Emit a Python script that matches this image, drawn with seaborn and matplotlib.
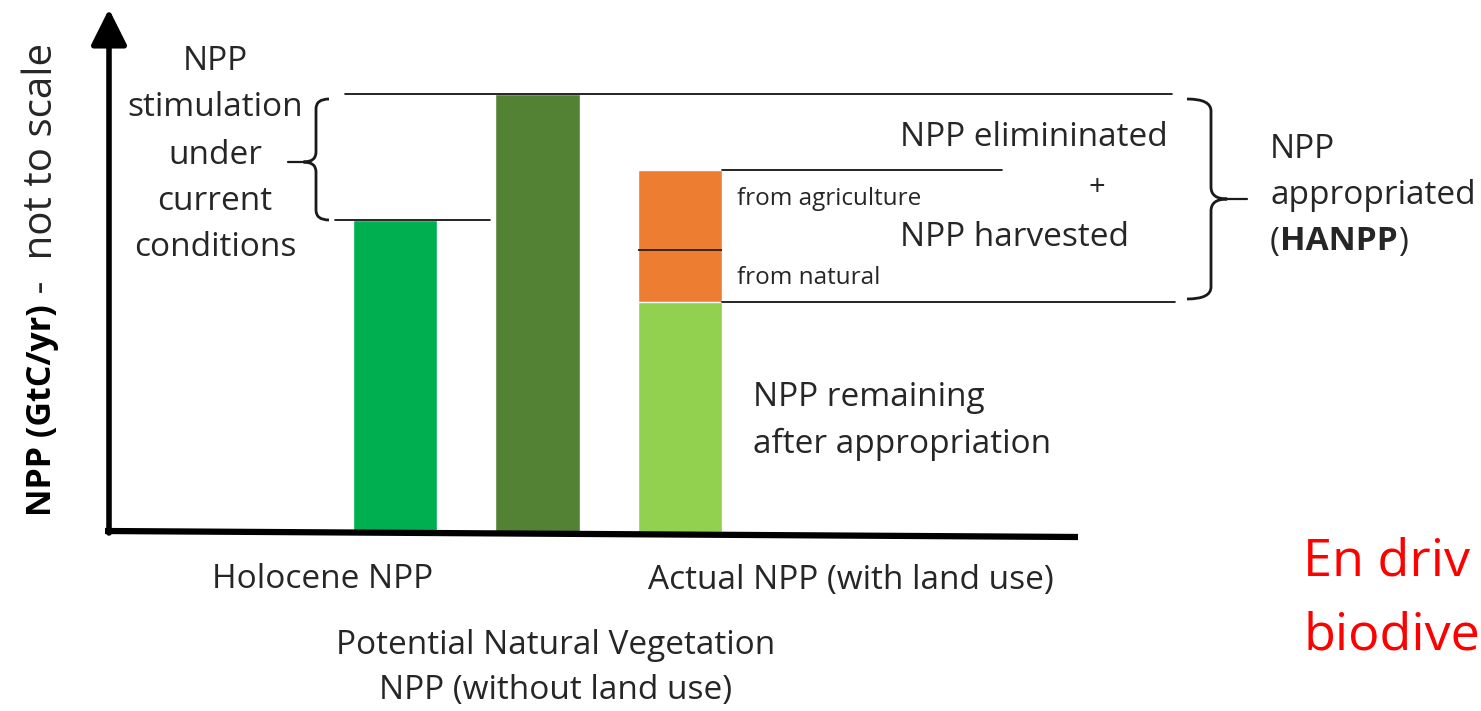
import matplotlib
matplotlib.use("Agg")
import matplotlib.pyplot as plt
import pandas as pd
import seaborn as sns
from matplotlib.patches import PathPatch
from matplotlib.path import Path
from matplotlib.transforms import Affine2D, IdentityTransform, blended_transform_factory

# bar heights in relative units (the original is "not to scale")
stages = ["Holocene NPP", "Potential Natural Vegetation NPP", "Actual NPP (with land use)"]
holocene_npp = 71.2
potential_npp = 100.0
actual_remaining = 52.5
actual_natural = 11.9
actual_agriculture = 18.3
bar_colors = ["#00B050", "#548235", "#ED7D31"]
remaining_color = "#92D050"

W, H = 1481, 711
TXT = "#262626"

sns.set_theme(style="white")
plt.rcParams["font.family"] = ["Open Sans", "DejaVu Sans"]

fig = plt.figure(figsize=(W / 100, H / 100), dpi=100)
ax = fig.add_axes([0, 0, 1, 1])

actual_total = actual_remaining + actual_natural + actual_agriculture
df = pd.DataFrame({"stage": stages, "npp": [holocene_npp, potential_npp, actual_total]})
sns.barplot(data=df, x="stage", y="npp", hue="stage", order=stages, palette=bar_colors,
            width=0.59, saturation=1, errorbar=None, legend=False, ax=ax)
rem = pd.DataFrame({"stage": [stages[2]], "npp": [actual_remaining]})
sns.barplot(data=rem, x="stage", y="npp", order=stages, color=remaining_color,
            width=0.59, saturation=1, errorbar=None, ax=ax)

# map categories / values to the picture's pixel grid
x0, xstep = 395, 142.5
ybase, yscale = 532, 4.38
ax.set_xlim(-x0 / xstep, (W - x0) / xstep)
ax.set_ylim(-(H - ybase) / yscale, ybase / yscale)
ax.set_axis_off()

pt = Affine2D().scale(1, -1).translate(0, H)          # image pixels (y down)
bt = blended_transform_factory(IdentityTransform(), ax.transData)  # x pixels, y data

# divider between the two harvested parts
ax.hlines(actual_remaining + actual_natural, 2 - 0.295, 2 + 0.295, color="#3b2414", lw=1.4)

# reference lines at the bar tops
line_kw = dict(color="black", lw=1.2, transform=bt, clip_on=False)
ax.plot([345, 1172], [potential_npp] * 2, **line_kw)
ax.plot([335, 490], [holocene_npp] * 2, **line_kw)
ax.plot([722, 1002], [actual_total] * 2, **line_kw)
ax.plot([722, 1175], [actual_remaining] * 2, **line_kw)

# axes: arrow up and the bottom line
ax.annotate("", xy=(109, 9), xycoords=pt, xytext=(109, 533), textcoords=pt,
            arrowprops=dict(arrowstyle="-|>,head_length=1.0,head_width=0.5", lw=4,
                            color="black", mutation_scale=22, shrinkA=0, shrinkB=0))
ax.plot([105, 1078], [531, 537], color="black", lw=4.5, transform=pt,
        solid_capstyle="butt", clip_on=False)


def brace(xs, xe, xt, y0, y1, ym, r=12):
    # xs: spine x, xe: x of the curled ends, xt: x of the tip
    d = xt - xs
    verts = [(xe, y0), (xs, y0), (xs, y0 + r),
             (xs, ym - r), (xs, ym), (xs + d * 0.45, ym),
             (xs, ym), (xs, ym + r),
             (xs, y1 - r), (xs, y1), (xe, y1)]
    codes = [Path.MOVETO, Path.CURVE3, Path.CURVE3,
             Path.LINETO, Path.CURVE3, Path.CURVE3,
             Path.CURVE3, Path.CURVE3,
             Path.LINETO, Path.CURVE3, Path.CURVE3]
    ax.add_patch(PathPatch(Path(verts, codes), fill=False, lw=2, ec="#1a1a1a",
                           transform=pt, clip_on=False))
    ax.plot([xs + d * 0.45, xt], [ym, ym], color="#1a1a1a", lw=1.6, transform=pt)


brace(316, 329, 288, 99, 220, 162, r=10)
brace(1211, 1187, 1247, 99, 299, 199, r=12)


def txt(x, y, s, size=24, ha="center", va="center", **kw):
    return ax.text(x, y, s, transform=pt, ha=ha, va=va, fontsize=size,
                   color=kw.pop("color", TXT), **kw)


for yy, s in zip([62, 108, 155, 202, 247],
                 ["NPP", "stimulation", "under", "current", "conditions"]):
    txt(215, yy, s)

txt(900, 138, "NPP elimininated", ha="left")
txt(1097, 188, "+", size=21)
txt(900, 237, "NPP harvested", ha="left")
txt(737, 199, "from agriculture", size=17.5, ha="left")
txt(737, 278, "from natural", size=17.5, ha="left")
txt(753, 398, "NPP remaining", ha="left")
txt(753, 444, "after appropriation", ha="left")
txt(1270, 150, "NPP", ha="left")
txt(1270, 196, "appropriated", ha="left")

txt(323, 580, "Holocene NPP")
txt(851, 580, "Actual NPP (with land use)")
txt(556, 645, "Potential Natural Vegetation")
txt(556, 690, "NPP (without land use)")

txt(1303, 575, "En driv", size=37.5, ha="left", va="baseline", color="#FF0000")
txt(1303, 649, "biodive", size=37.5, ha="left", va="baseline", color="#FF0000")

fig.canvas.draw()
r = fig.canvas.get_renderer()

# (HANPP) with the acronym in bold
p1 = txt(1270, 242, "(", ha="left")
x = p1.get_window_extent(r).x1
p2 = txt(x, 242, "HANPP", ha="left", fontweight="bold")
x = p2.get_window_extent(r).x1
txt(x, 242, ")", ha="left")

# y label, bold unit part then plain text
yl = ax.text(42, 516, "NPP (GtC/yr)", transform=pt, rotation=90, rotation_mode="anchor",
             ha="left", va="center", fontsize=24.5, fontweight="bold", color="black")
top = H - yl.get_window_extent(r).y1
ax.text(42, top, " -  not to scale", transform=pt, rotation=90, rotation_mode="anchor",
        ha="left", va="center", fontsize=29, color=TXT)

fig.savefig("out.png", dpi=100, facecolor="white")
